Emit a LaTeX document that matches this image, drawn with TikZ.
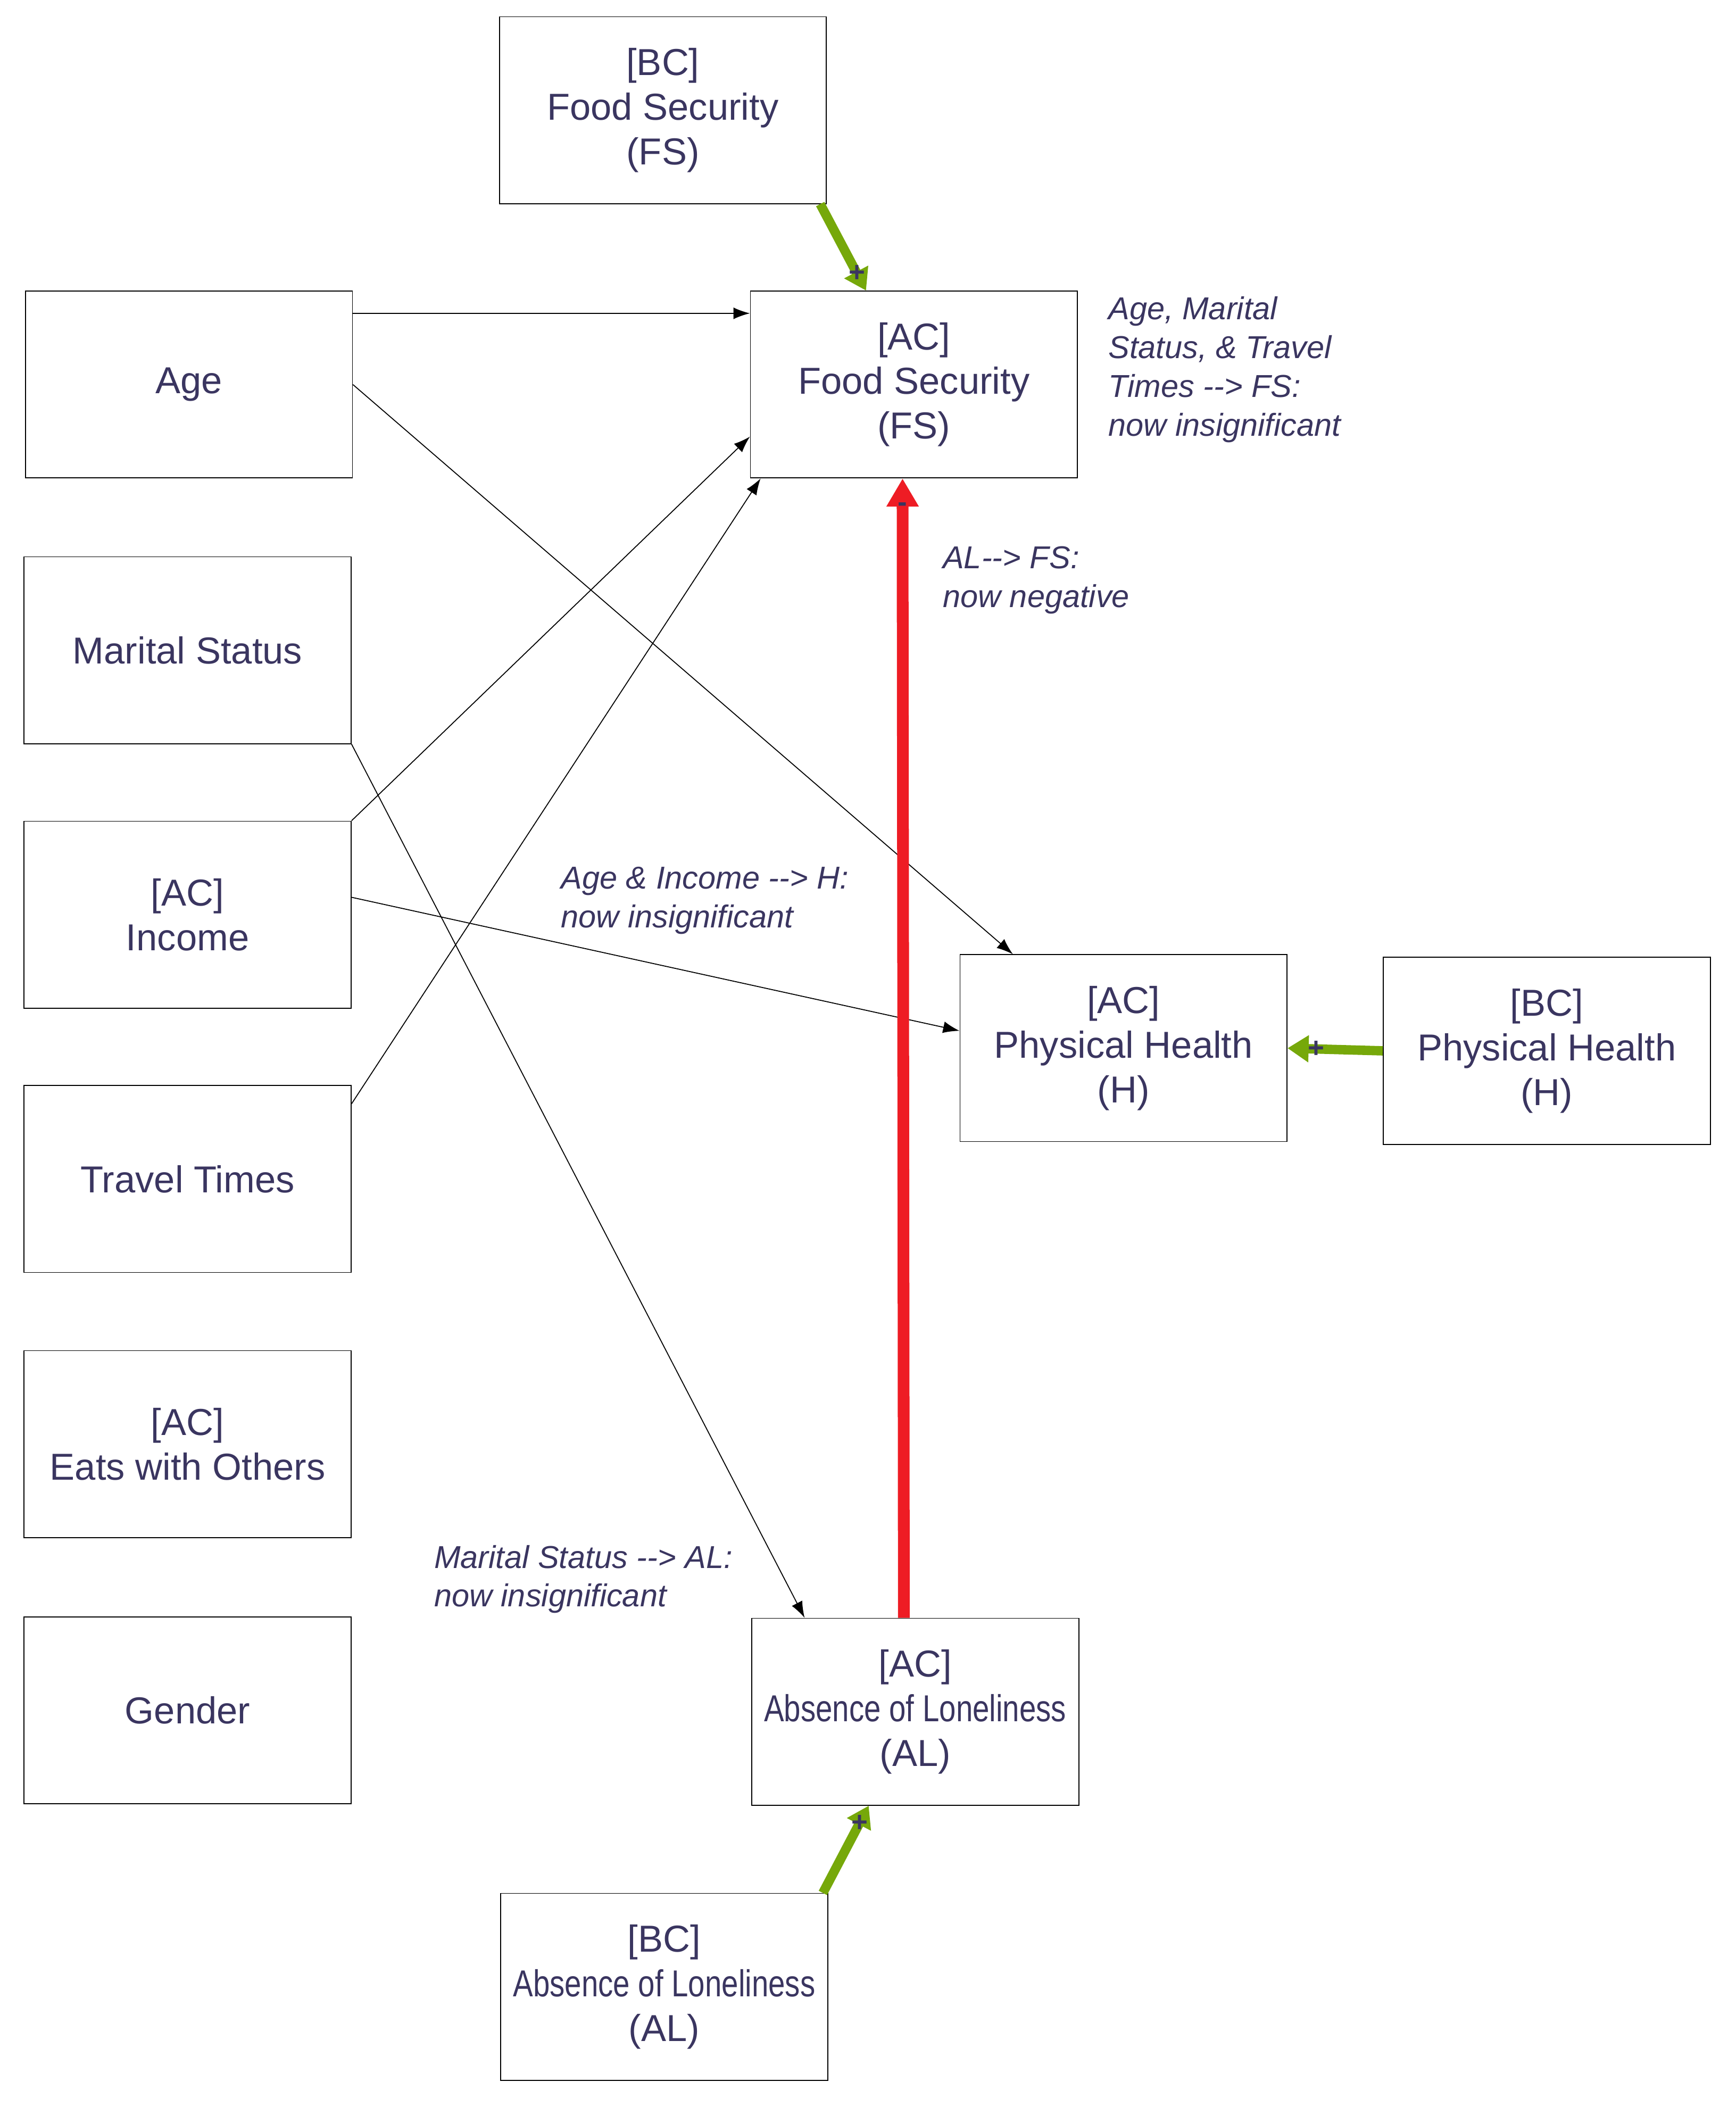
\documentclass[tikz,border=0pt]{standalone}
\usepackage{fontspec}
\setmainfont{Liberation Sans}
\usetikzlibrary{arrows.meta}
\definecolor{txt}{HTML}{3A3560}
\definecolor{grn}{HTML}{76A80A}
\definecolor{rd}{HTML}{EE1C24}
\newcommand{\narrow}[1]{\scalebox{0.8}[1]{#1}}
\newcommand{\arr}{{-}{-}>}
\begin{document}
\begin{tikzpicture}[x=0.02cm,y=-0.02cm,
    box/.style={draw, thin, minimum width=4.9cm, minimum height=2.8cm, align=center,
      text=txt, font=\fontsize{16}{19}\selectfont},
    note/.style={align=left, anchor=north west, text=txt, font=\fontsize{13.5}{16.5}\selectfont\itshape},
    link/.style={-{Latex[length=7pt,width=5pt]}, thin},
    plus/.style={line width=4pt, grn, -{Triangle[length=9pt,width=11pt]}},
    sign/.style={text=txt, font=\bfseries\large, inner sep=0pt}]
  \useasboundingbox (0,0) rectangle (1300,1578);
  % boxes
  \node (bcfs) at (496.5,82.5) [box] {[BC]\\Food Security\\(FS)};
  \node (age) at (141.5,288) [box] {Age};
  \node (fs) at (684.5,288) [box] {[AC]\\Food Security\\(FS)};
  \node (mar) at (140.5,487) [box] {Marital Status};
  \node (inc) at (140.5,685) [box] {[AC]\\Income};
  \node (trav) at (140.5,883) [box] {Travel Times};
  \node (eats) at (140.5,1081.5) [box] {[AC]\\Eats with Others};
  \node (gen) at (140.5,1281) [box] {Gender};
  \node (h) at (841.5,785) [box] {[AC]\\Physical Health\\(H)};
  \node (bch) at (1158.5,787) [box] {[BC]\\Physical Health\\(H)};
  \node (al) at (685.5,1282) [box] {[AC]\\\narrow{Absence of Loneliness}\\(AL)};
  \node (bcal) at (497.5,1488) [box] {[BC]\\\narrow{Absence of Loneliness}\\(AL)};
  % notes
  \node (n1) at (824,216) [note] {Age, Marital\\Status, \& Travel\\Times \arr{} FS:\\now insignificant};
  \node (n2) at (700,403) [note] {AL\arr{} FS:\\now negative};
  \node (n3) at (414,643) [note] {Age \& Income \arr{} H:\\now insignificant};
  \node (n4) at (319,1151) [note] {Marital Status \arr{} AL:\\now insignificant};
  % black links
  \draw[link] ([yshift=-0.34cm]age.north east) -- ([yshift=-0.34cm]fs.north west);
  \draw[link] (age.east) -- ([xshift=0.8cm]h.north west);
  \draw[link] (mar.south east) -- ([xshift=0.8cm]al.north west);
  \draw[link] (inc.north east) -- ([yshift=-0.78cm]fs.west);
  \draw[link] ([yshift=0.26cm]inc.east) -- ([yshift=0.26cm]h.west);
  \draw[link] ([yshift=-0.28cm]trav.north east) -- ([xshift=0.16cm]fs.south west);
  % coloured links
  \draw[plus] ([xshift=-0.1cm]bcfs.south east) -- ([xshift=1.74cm]fs.north west)
    node[sign, pos=0.8] {+};
  \draw[plus] (bch.west) -- (h.east) node[sign, pos=0.7] {+};
  \draw[plus] ([xshift=-0.08cm]bcal.north east) -- ([xshift=1.76cm]al.south west)
    node[sign, pos=0.8] {+};
  \draw[rd, line width=5pt, -{Triangle[length=12pt,width=13pt]}]
    ([xshift=-0.17cm]al.north) -- ([xshift=-0.17cm]fs.south)
    node[sign, pos=0.975] {-};
\end{tikzpicture}
\end{document}
